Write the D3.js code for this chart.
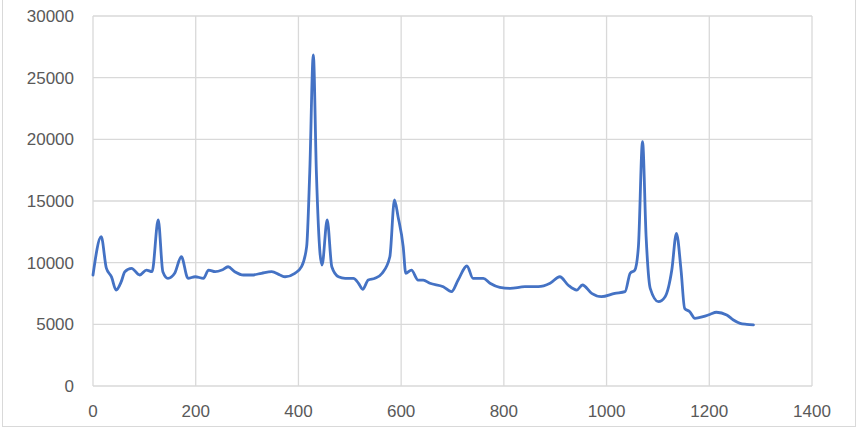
<html>
<head>
  <script src='https://d3js.org/d3.v7.min.js'></script>
  <style>
    html, body { margin: 0; background: #fff; }
    text { font-family: 'Liberation Sans', Arial, sans-serif; }
  </style>
</head>
<body>
  <script>

    // spectrum
    var shift = [0, 16, 26, 36, 45, 55, 62, 75, 91, 104, 115, 127, 136, 146, 159, 172, 185, 199,
      215, 225, 238, 251, 263, 276, 293, 309, 328, 348, 364, 374, 393, 406, 416, 422, 429, 435,
      442, 446, 456, 465, 478, 491, 507, 517, 525, 536, 549, 563, 578, 587, 594, 604, 609, 620,
      633, 643, 656, 682, 698, 711, 728, 740, 760, 773, 792, 812, 841, 867, 890, 909, 925, 942,
      953, 971, 990, 1016, 1036, 1046, 1055, 1062, 1070, 1077, 1085, 1101, 1114, 1127, 1136, 1145,
      1152, 1162, 1172, 1188, 1201, 1214, 1234, 1247, 1260, 1273, 1286];
    var intensity = [9000, 12100, 9550, 8850, 7780, 8460, 9270, 9540, 9000, 9400, 9270, 13460, 9270,
      8730, 9140, 10480, 8730, 8860, 8730, 9400, 9270, 9400, 9670, 9270, 9000, 9000, 9140, 9270,
      9000, 8860, 9140, 9670, 11300, 17270, 26840, 17270, 10780, 9810, 13460, 9670, 8860, 8730,
      8730, 8330, 7840, 8590, 8730, 9140, 10480, 15080, 13730, 11300, 9140, 9400, 8590, 8590, 8330,
      8050, 7650, 8590, 9730, 8730, 8730, 8330, 8000, 7920, 8050, 8050, 8330, 8860, 8190, 7780,
      8190, 7510, 7240, 7510, 7650, 9140, 9400, 11300, 19810, 12100, 7920, 6840, 7240, 9400, 12380,
      9400, 6300, 6020, 5490, 5620, 5800, 5980, 5760, 5350, 5080, 5000, 4950];

    var xTicks = [0, 200, 400, 600, 800, 1000, 1200, 1400];
    var yTicks = [0, 5000, 10000, 15000, 20000, 25000, 30000];

    var width = 858,
        height = 429;

    var svg = d3.select('body')
    .append('svg')
    .attr('width', width)
    .attr('height', height);

    svg.append('rect')
    .attr('x', 2.5).attr('y', -1)
    .attr('width', width - 5).attr('height', height - 1.5)
    .attr('fill', '#fff')
    .attr('stroke', '#d9d9d9');

    var x = d3.scaleLinear().domain([0, 1400]).range([93, 812]);
    var y = d3.scaleLinear().domain([0, 30000]).range([386, 16]);

    var grid = svg.append('g')
    .attr('stroke', '#d9d9d9')
    .attr('stroke-width', 1.3);

    grid.selectAll('line.v')
    .data(xTicks)
    .enter()
    .append('line')
    .attr('class', 'v')
    .attr('x1', d => x(d)).attr('x2', d => x(d))
    .attr('y1', y(30000)).attr('y2', y(0));

    grid.selectAll('line.h')
    .data(yTicks)
    .enter()
    .append('line')
    .attr('class', 'h')
    .attr('x1', x(0)).attr('x2', x(1400))
    .attr('y1', d => y(d)).attr('y2', d => y(d));

    svg.append('g')
    .selectAll('text')
    .data(yTicks)
    .enter()
    .append('text')
    .attr('x', 74)
    .attr('y', d => y(d))
    .attr('dy', '0.35em')
    .attr('text-anchor', 'end')
    .attr('font-size', 17)
    .attr('fill', '#595959')
    .text(d => d);

    svg.append('g')
    .selectAll('text')
    .data(xTicks)
    .enter()
    .append('text')
    .attr('x', d => x(d))
    .attr('y', 411)
    .attr('dy', '0.35em')
    .attr('text-anchor', 'middle')
    .attr('font-size', 17)
    .attr('fill', '#595959')
    .text(d => d);

    var line = d3.line()
    .curve(d3.curveMonotoneX)
    .x((d, i) => x(shift[i]))
    .y(d => y(d));

    svg.append('path')
    .datum(intensity)
    .attr('d', line)
    .attr('fill', 'none')
    .attr('stroke', '#4472c4')
    .attr('stroke-width', 2.8)
    .attr('stroke-linejoin', 'round')
    .attr('stroke-linecap', 'round');

  </script>
</body>
</html>
